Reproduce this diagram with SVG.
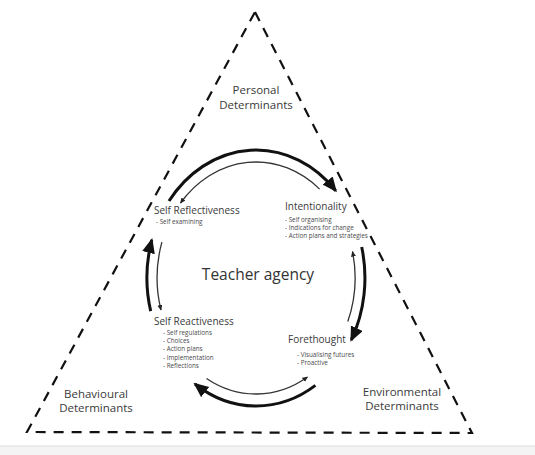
<svg xmlns="http://www.w3.org/2000/svg" width="535" height="455" viewBox="0 0 535 455">
<defs>
<style>
text{font-family:"Open Sans","Noto Sans","DejaVu Sans",sans-serif;fill:#3a3a3a}
.det{font-size:11.5px;text-anchor:middle}
.hd{font-size:10px}
.it{font-size:6.3px;fill:#4a4a4a}
.title{font-size:15.5px;fill:#333;text-anchor:middle}
.tri{fill:none;stroke:#111;stroke-width:2.2;stroke-dasharray:10 8}
.thick{fill:none;stroke:#111;stroke-width:3;marker-end:url(#big)}
.thin{fill:none;stroke:#333;stroke-width:1.3;marker-end:url(#small)}
</style>
<marker id="big" markerUnits="userSpaceOnUse" markerWidth="16" markerHeight="14" refX="13" refY="6.5" orient="auto">
<path d="M0,0 L15,6.5 L0,13 z" fill="#111"/>
</marker>
<marker id="small" markerUnits="userSpaceOnUse" markerWidth="7" markerHeight="6" refX="5" refY="2.5" orient="auto">
<path d="M0,0 L5.5,2.5 L0,5 z" fill="#222"/>
</marker>
</defs>
<rect width="535" height="455" fill="#fff"/>
<rect x="0" y="446" width="535" height="9" fill="#f4f4f4"/>
<line x1="0" y1="446" x2="535" y2="446" stroke="#dedede" stroke-width="1"/>
<g id="frame">
<path class="tri" d="M255,12 L472,433 L27,432 Z"/>
</g>
<g id="connectors">
<path class="thick" d="M169,201 A109,128 0 0 1 335.7,190.7"/>
<path class="thick" d="M361.7,247 A109,128 0 0 1 351.3,340"/>
<path class="thick" d="M315.4,385.4 A109,128 0 0 1 195,384"/>
<path class="thick" d="M150.7,311.1 A109,128 0 0 1 151.8,240"/>
<path class="thin" d="M319.6,189.1 A99,116 0 0 0 180.5,203"/>
<path class="thin" d="M347.8,321.5 A99,116 0 0 0 352.5,251.5"/>
<path class="thin" d="M206.5,378.5 A99,116 0 0 0 307.5,377"/>
<path class="thin" d="M161.9,242.2 A99,116 0 0 0 161,310"/>
</g>
<g id="personal">
<text class="det" x="256" y="94">Personal</text>
<text class="det" x="256" y="109">Determinants</text>
</g>
<g id="behavioural">
<text class="det" x="96" y="398">Behavioural</text>
<text class="det" x="96" y="412">Determinants</text>
</g>
<g id="environmental">
<text class="det" x="402" y="396">Environmental</text>
<text class="det" x="402" y="410">Determinants</text>
</g>
<g id="teacher-agency">
<text class="title" x="258" y="280">Teacher agency</text>
</g>
<g id="self-reflectiveness">
<text class="hd" x="154" y="214">Self Reflectiveness</text>
<text class="it" x="156" y="224">- Self examining</text>
</g>
<g id="intentionality">
<text class="hd" x="285" y="210">Intentionality</text>
<text class="it" x="285" y="222">- Self organising</text>
<text class="it" x="285" y="230">- Indications for change</text>
<text class="it" x="285" y="238">- Action plans and strategies</text>
</g>
<g id="self-reactiveness">
<text class="hd" x="154" y="325">Self Reactiveness</text>
<text class="it" x="163" y="335">- Self regulations</text>
<text class="it" x="163" y="343">- Choices</text>
<text class="it" x="163" y="351">- Action plans</text>
<text class="it" x="163" y="359.5">- Implementation</text>
<text class="it" x="163" y="368">- Reflections</text>
</g>
<g id="forethought">
<text class="hd" x="288" y="343">Forethought</text>
<text class="it" x="297" y="357">- Visualising futures</text>
<text class="it" x="297" y="365">- Proactive</text>
</g>
</svg>
